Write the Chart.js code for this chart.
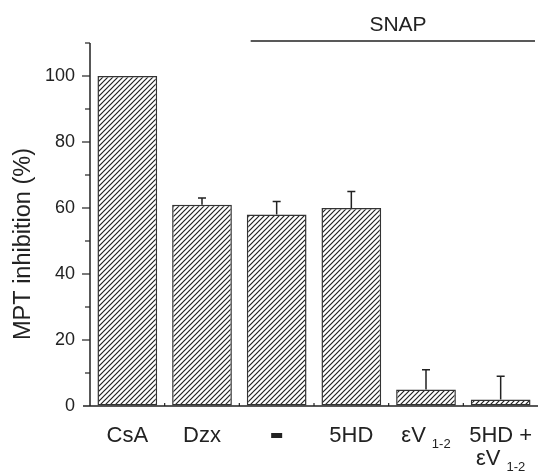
<!DOCTYPE html>
<html>
<head>
<meta charset="utf-8">
<script src="https://cdn.jsdelivr.net/npm/chart.js@4.4.1/dist/chart.umd.min.js"></script>
<style>
  html, body { margin: 0; padding: 0; background: #fff; }
  #wrap { width: 538px; height: 471px; position: relative; }
</style>
</head>
<body>
<div id="wrap"><canvas id="chart"></canvas></div>
<script>
// data
const categories = ['CsA', 'Dzx', '-', '5HD', 'εV_{1-2}', '5HD +\nεV_{1-2}'];
const inhibition = [100, 61, 58, 60, 5, 2];
const errors = [0, 2, 4, 5, 6, 7];
const yTicks = [0, 20, 40, 60, 80, 100];
const snapFrom = 2; // SNAP bracket covers categories 2..5

const ink = '#222';
const fontFamily = '"Liberation Sans", Arial, Helvetica, sans-serif';

function hatchPattern() {
    const size = 5;
    const c = document.createElement('canvas');
    c.width = size; c.height = size;
    const g = c.getContext('2d');
    g.fillStyle = '#fff';
    g.fillRect(0, 0, size, size);
    g.strokeStyle = '#222';
    g.lineWidth = 1.2;
    g.beginPath();
    g.moveTo(-1, size + 1); g.lineTo(size + 1, -1);
    g.moveTo(-1, 1); g.lineTo(1, -1);
    g.moveTo(size - 1, size + 1); g.lineTo(size + 1, size - 1);
    g.stroke();
    return g.createPattern(c, 'repeat');
}

// draws a label with optional _{subscript} parts, centred on x
function drawRichText(ctx, text, x, baseline, size) {
    const parts = [];
    const re = /_\{([^}]*)\}/g;
    let last = 0, m;
    while ((m = re.exec(text)) !== null) {
        if (m.index > last) parts.push({ t: text.slice(last, m.index), sub: false });
        parts.push({ t: m[1], sub: true });
        last = re.lastIndex;
    }
    if (last < text.length) parts.push({ t: text.slice(last), sub: false });

    const fontFor = p => (p.sub ? 13 : size) + 'px ' + fontFamily;
    let total = 0;
    parts.forEach(p => {
        ctx.font = fontFor(p);
        p.w = ctx.measureText(p.t).width + (p.sub ? 6 : 0);
        total += p.w;
    });
    let cx = x - total / 2;
    ctx.textAlign = 'left';
    parts.forEach(p => {
        ctx.font = fontFor(p);
        ctx.fillText(p.t, cx + (p.sub ? 6 : 0), baseline + (p.sub ? 6 : 0));
        cx += p.w;
    });
}

const decorations = {
    id: 'decorations',
    afterDatasetsDraw(chart) {
        const ctx = chart.ctx;
        const x = chart.scales.x, y = chart.scales.y;
        const area = chart.chartArea;
        const meta = chart.getDatasetMeta(0);
        ctx.save();
        ctx.strokeStyle = ink;
        ctx.fillStyle = ink;

        // error bars (upward only)
        ctx.lineWidth = 1.5;
        meta.data.forEach((bar, i) => {
            if (!errors[i]) return;
            const top = y.getPixelForValue(inhibition[i] + errors[i]);
            ctx.beginPath();
            ctx.moveTo(bar.x, bar.y);
            ctx.lineTo(bar.x, top);
            ctx.moveTo(bar.x - 4, top);
            ctx.lineTo(bar.x + 4, top);
            ctx.stroke();
        });

        // axes
        ctx.lineWidth = 1.5;
        ctx.beginPath();
        ctx.moveTo(area.left, area.top);
        ctx.lineTo(area.left, area.bottom);
        ctx.moveTo(area.left - 7, area.bottom);
        ctx.lineTo(area.right, area.bottom);
        ctx.stroke();

        // y ticks: major every 20, minor every 10
        ctx.lineWidth = 1.2;
        for (let v = 10; v <= 110; v += 10) {
            const py = y.getPixelForValue(v);
            const len = v % 20 === 0 ? 8 : 5;
            ctx.beginPath();
            ctx.moveTo(area.left - len, py);
            ctx.lineTo(area.left, py);
            ctx.stroke();
        }

        // small inner ticks between categories
        for (let i = 1; i < categories.length; i++) {
            const px = (x.getPixelForValue(i - 1) + x.getPixelForValue(i)) / 2;
            ctx.beginPath();
            ctx.moveTo(px, area.bottom);
            ctx.lineTo(px, area.bottom - 3);
            ctx.stroke();
        }

        // category labels
        ctx.textBaseline = 'alphabetic';
        categories.forEach((lab, i) => {
            const px = x.getPixelForValue(i);
            if (lab === '-') {
                ctx.fillRect(px - 5.5, 433, 11, 5);
                return;
            }
            lab.split('\n').forEach((line, k) => {
                drawRichText(ctx, line, px, 442 + k * 23, 22);
            });
        });

        // SNAP bracket
        const sx0 = x.getPixelForValue(snapFrom) - 26;
        const sx1 = area.right - 3;
        ctx.lineWidth = 1.5;
        ctx.beginPath();
        ctx.moveTo(sx0, 41);
        ctx.lineTo(sx1, 41);
        ctx.stroke();
        ctx.font = '21px ' + fontFamily;
        ctx.textAlign = 'center';
        ctx.fillText('SNAP', 398, 31);

        // y title
        ctx.translate(24, 244);
        ctx.rotate(-Math.PI / 2);
        ctx.font = '23.5px ' + fontFamily;
        ctx.textAlign = 'center';
        ctx.textBaseline = 'middle';
        ctx.fillText('MPT inhibition (%)', 0, 0);
        ctx.restore();
    }
};

new Chart(document.getElementById('chart'), {
    type: 'bar',
    data: {
        labels: categories,
        datasets: [{
            data: inhibition,
            backgroundColor: hatchPattern(),
            borderColor: '#333',
            borderWidth: 1.5,
            borderSkipped: false,
            barPercentage: 0.8,
            categoryPercentage: 1.0
        }]
    },
    options: {
        responsive: true,
        maintainAspectRatio: false,
        animation: false,
        layout: { padding: { top: 43, right: 0, left: 0, bottom: 0 } },
        plugins: { legend: { display: false }, tooltip: { enabled: false } },
        scales: {
            x: {
                grid: { display: false },
                border: { display: false },
                ticks: { display: false },
                afterFit: s => { s.height = 65; }
            },
            y: {
                min: 0,
                max: 110,
                grid: { display: true, drawOnChartArea: false, tickLength: 8, tickColor: 'transparent' },
                border: { display: false },
                ticks: {
                    stepSize: 10,
                    padding: 7,
                    color: ink,
                    font: { family: fontFamily, size: 18 },
                    callback: v => (yTicks.includes(v) ? String(v) : '')
                },
                afterFit: s => { s.width = 90; }
            }
        }
    },
    plugins: [decorations]
});
</script>
</body>
</html>
